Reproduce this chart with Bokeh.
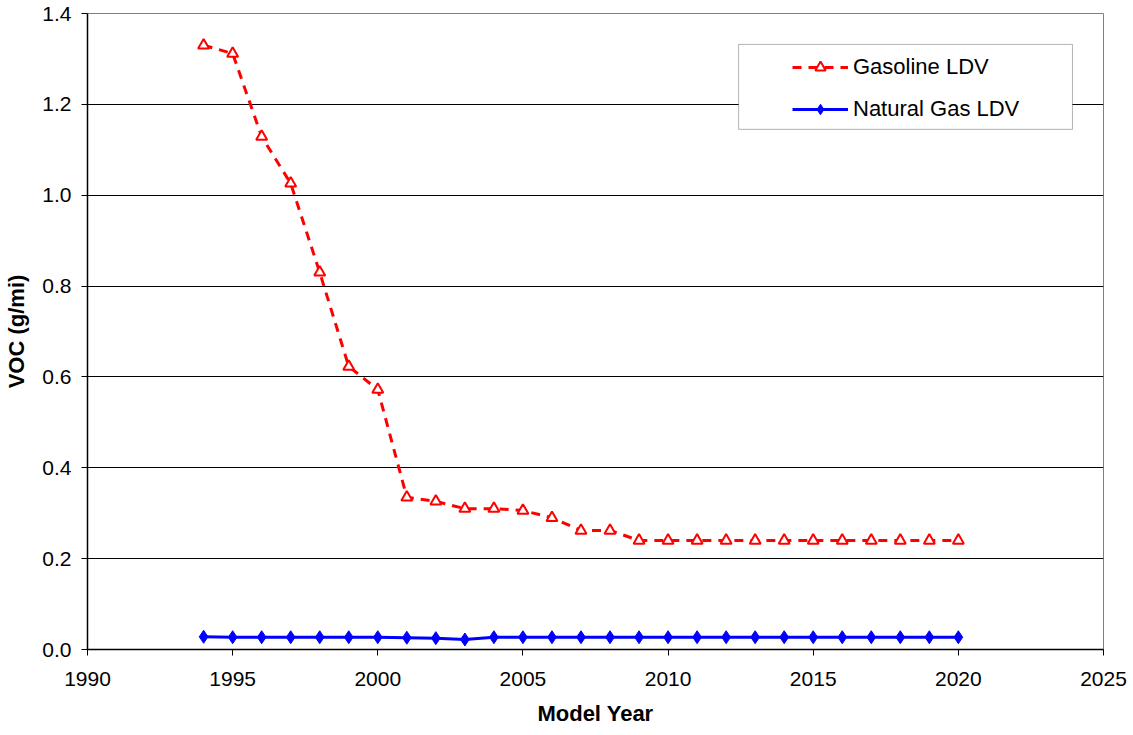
from bokeh.plotting import figure
from bokeh.models import Legend, LegendItem, BoxAnnotation, FixedTicker, Range1d, NumeralTickFormatter
from bokeh.embed import file_html
from bokeh.resources import INLINE

years = list(range(1994, 2021))
gasoline = [1.33, 1.312, 1.129, 1.026, 0.83, 0.623, 0.572, 0.335, 0.326, 0.310, 0.310,
            0.306, 0.290, 0.262, 0.262, 0.240, 0.240, 0.240, 0.240, 0.240, 0.240, 0.240,
            0.240, 0.240, 0.240, 0.240, 0.240]
natgas = [0.028, 0.027, 0.027, 0.027, 0.027, 0.027, 0.027, 0.026, 0.025, 0.022, 0.027,
          0.027, 0.027, 0.027, 0.027, 0.027, 0.027, 0.027, 0.027, 0.027, 0.027, 0.027,
          0.027, 0.027, 0.027, 0.027, 0.027]
x_ticks = [1990, 1995, 2000, 2005, 2010, 2015, 2020, 2025]
y_ticks = [0.0, 0.2, 0.4, 0.6, 0.8, 1.0, 1.2, 1.4]

FONT = "Liberation Sans"

p = figure(width=1133, height=735, output_backend="svg", toolbar_location=None,
           x_range=Range1d(1990, 2025), y_range=Range1d(0, 1.4),
           min_border_left=87, min_border_right=30, min_border_top=13, min_border_bottom=86)

p.outline_line_color = "#808080"
p.xgrid.grid_line_color = None
p.ygrid.grid_line_color = "#000000"
p.ygrid.grid_line_width = 1
p.ygrid.ticker = FixedTicker(ticks=y_ticks)

for ax in (p.xaxis[0], p.yaxis[0]):
    ax.axis_line_color = "#000000"
    ax.axis_line_width = 1.5
    ax.major_tick_line_color = "#000000"
    ax.major_tick_out = 6
    ax.major_tick_in = 0
    ax.minor_tick_out = 0
    ax.minor_tick_in = 0
    ax.major_label_text_font = FONT
    ax.major_label_text_font_size = "21px"
    ax.major_label_text_color = "#000000"
    ax.axis_label_text_font = FONT
    ax.axis_label_text_font_size = "22px"
    ax.axis_label_text_font_style = "bold"
    ax.axis_label_text_color = "#000000"

p.xaxis.ticker = FixedTicker(ticks=x_ticks)
p.yaxis.ticker = FixedTicker(ticks=y_ticks)
p.yaxis.formatter = NumeralTickFormatter(format="0.0")
p.xaxis.axis_label = "Model Year"
p.yaxis.axis_label = "VOC (g/mi)"
p.xaxis.major_label_standoff = 16
p.xaxis.axis_label_standoff = 12
p.yaxis.major_label_standoff = 10
p.yaxis.axis_label_standoff = 10

gl = p.line(years, gasoline, line_color="#ff0000", line_width=3, line_dash="9 7")
gm = p.scatter(years, gasoline, marker="triangle", size=11, fill_color="#ffffff",
               line_color="#ff0000", line_width=2)
nl = p.line(years, natgas, line_color="#0000ff", line_width=3)
nm = p.scatter(years, natgas, marker="diamond", size=13, fill_color="#0000ff",
               line_color="#0000ff")

box = BoxAnnotation(left=2012.43, right=2023.93, top=1.332, bottom=1.145,
                    fill_color="#ffffff", fill_alpha=1.0, line_color="#000000", line_width=1)
p.add_layout(box)

legend = Legend(items=[LegendItem(label="Gasoline LDV", renderers=[gl, gm]),
                       LegendItem(label="Natural Gas LDV", renderers=[nl, nm])],
                location=(705, 527), border_line_color=None, background_fill_alpha=0,
                label_text_font=FONT, label_text_font_size="22px", label_text_color="#000000",
                glyph_width=56, glyph_height=26, label_height=26, label_standoff=5,
                spacing=16, padding=0, margin=0)
p.add_layout(legend)

open("out.html", "w").write(file_html(p, INLINE))
